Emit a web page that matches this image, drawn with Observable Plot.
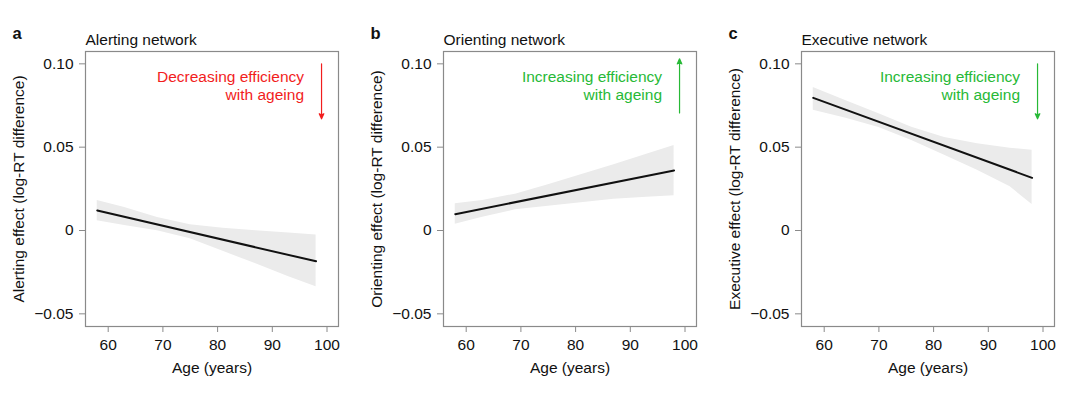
<!DOCTYPE html>
<html><head><meta charset="utf-8">
<script src="https://cdn.jsdelivr.net/npm/d3@7"></script>
<script src="https://cdn.jsdelivr.net/npm/@observablehq/plot@0.6"></script>
<style>
body{margin:0;background:#fff;}
#row{display:flex;width:1080px;height:394px;}
#row svg{display:block;flex:none;}
</style></head><body><div id="row"></div>
<script>
// ---- data ----
const panelLetters = ["a", "b", "c"];
const panelTitles = ["Alerting network", "Orienting network", "Executive network"];
const yLabels = ["Alerting effect (log-RT difference)", "Orienting effect (log-RT difference)", "Executive effect (log-RT difference)"];
const xLabel = "Age (years)";
const xTicks = [60, 70, 80, 90, 100];
const yTicks = [-0.05, 0, 0.05, 0.10];
const yTickLabels = ["\u22120.05", "0", "0.05", "0.10"];

const fitAges = [58, 98];
const alertingFit = [0.012, -0.0185];
const orientingFit = [0.0098, 0.036];
const executiveFit = [0.0796, 0.0316];

const alertingBandAges = [58, 63, 69, 75, 81, 87, 93, 98];
const alertingUpper = [0.0180, 0.0138, 0.0078, 0.0034, 0.0014, -0.0002, -0.0015, -0.0027];
const alertingLower = [0.0058, 0.0030, -0.0002, -0.0050, -0.0125, -0.0200, -0.0278, -0.0338];

const orientingBandAges = [58, 63, 69, 75, 81, 87, 93, 98];
const orientingUpper = [0.0160, 0.0180, 0.0218, 0.0274, 0.0334, 0.0395, 0.0458, 0.0510];
const orientingLower = [0.0038, 0.0080, 0.0124, 0.0146, 0.0166, 0.0188, 0.0200, 0.0208];

const executiveBandAges = [58, 64, 70, 76, 82, 88, 94, 98];
const executiveUpper = [0.0858, 0.0778, 0.0700, 0.0620, 0.0558, 0.0520, 0.0494, 0.0482];
const executiveLower = [0.0722, 0.0674, 0.0618, 0.0540, 0.0452, 0.0362, 0.0262, 0.0156];

const annotations = ["Decreasing efficiency\nwith ageing", "Increasing efficiency\nwith ageing", "Increasing efficiency\nwith ageing"];
const annotationColors = ["#f21d1d", "#27b936", "#27b936"];
const annotationAge = 95.8;
const annotationTop = 0.097;
const arrowAge = 99;
const arrowFrom = [0.100, 0.0705, 0.100];
const arrowTo = [0.067, 0.103, 0.067];

// ---- layout ----
const panelMargins = [[85, 22], [83, 24], [81, 26]];
const fits = [alertingFit, orientingFit, executiveFit];
const bands = [
  [alertingBandAges, alertingUpper, alertingLower],
  [orientingBandAges, orientingUpper, orientingLower],
  [executiveBandAges, executiveUpper, executiveLower]
];
const font = "'Liberation Sans', Arial, Helvetica, sans-serif";
const gray = "#8a8a8a";

const row = document.getElementById("row");
for (let i = 0; i < 3; i++) {
  const fitData = fitAges.map((a, j) => ({age: a, value: fits[i][j]}));
  const [bAges, bUp, bLo] = bands[i];
  const bandData = bAges.map((a, j) => ({age: a, upper: bUp[j], lower: bLo[j]}));
  const chart = Plot.plot({
    width: 360,
    height: 394,
    marginLeft: panelMargins[i][0],
    marginRight: panelMargins[i][1],
    marginTop: 51,
    marginBottom: 68,
    style: {fontFamily: font, fontSize: "15.5px", color: "#111", background: "white", overflow: "visible"},
    x: {domain: [55.85, 102.1], label: null},
    y: {domain: [-0.0576, 0.1074], label: null},
    marks: [
      Plot.areaY(bandData, {x: "age", y1: "lower", y2: "upper", fill: "#ebebeb"}),
      Plot.line(fitData, {x: "age", y: "value", stroke: "#111", strokeWidth: 2}),
      Plot.frame({stroke: gray, strokeWidth: 1.2}),
      Plot.axisX(xTicks, {tickSize: 6, tickPadding: 6, stroke: gray, fill: "#111", label: null}),
      Plot.axisY(yTicks, {tickSize: 6, tickPadding: 6, stroke: gray, fill: "#111", label: null,
        tickFormat: d => yTickLabels[yTicks.indexOf(d)]}),
      Plot.text([xLabel], {frameAnchor: "bottom", dy: 46, lineAnchor: "bottom", fill: "#111"}),
      Plot.text([yLabels[i]], {frameAnchor: "left", dx: -66, rotate: -90, textAnchor: "middle", lineAnchor: "middle", fill: "#111"}),
      Plot.text([panelTitles[i]], {frameAnchor: "top-left", dy: -7, lineAnchor: "bottom", textAnchor: "start", fill: "#111"}),
      Plot.text([panelLetters[i]], {frameAnchor: "top-left", dx: -73, dy: -13, lineAnchor: "bottom", textAnchor: "start",
        fontWeight: "bold", fontSize: 16.5, fill: "#111"}),
      Plot.text([annotations[i]], {x: () => annotationAge, y: () => annotationTop, textAnchor: "end", lineAnchor: "top",
        lineHeight: 1.19, fill: annotationColors[i]}),
      Plot.arrow([{x: arrowAge, y1: arrowFrom[i], y2: arrowTo[i]}], {x1: "x", x2: "x", y1: "y1", y2: "y2",
        stroke: annotationColors[i], fill: annotationColors[i], strokeWidth: 1.2, headLength: 7, headAngle: 48})
    ]
  });
  row.appendChild(chart);
}
</script></body></html>
